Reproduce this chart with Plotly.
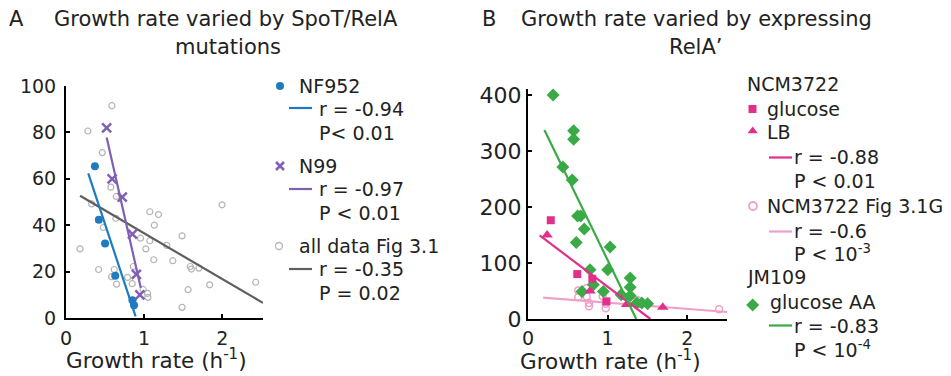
import plotly.graph_objects as go

W, H = 951, 376

# ---------------- Panel A data ----------------
nf952_x = [0.37, 0.42, 0.50, 0.63, 0.85, 0.87]
nf952_y = [65.4, 42.3, 32.1, 18.2, 7.6, 5.5]

n99_x = [0.52, 0.59, 0.72, 0.85, 0.90, 0.945]
n99_y = [81.9, 60.0, 52.1, 36.2, 18.8, 10.0]

all_x = [0.98, 0.587, 0.28, 0.464, 0.574, 0.643, 0.328, 1.072, 1.183, 1.996,
         1.13, 0.638, 0.477, 0.953, 1.072, 1.021, 0.179, 1.123, 0.417, 0.617,
         0.583, 0.647, 0.787, 0.86, 0.847, 0.987, 1.043, 1.047, 1.485, 1.289,
         1.366, 1.59, 1.604, 1.70, 1.838, 1.562, 1.485, 2.426]
all_y = [100.7, 91.5, 80.6, 71.3, 56.4, 52.4, 49.2, 45.8, 44.6, 48.8,
         40.0, 43.0, 39.0, 34.4, 33.3, 29.8, 29.8, 25.1, 20.9, 20.9,
         17.8, 14.6, 17.5, 22.2, 14.8, 12.3, 10.6, 8.9, 35.4, 31.3,
         24.7, 22.2, 21.1, 21.5, 14.3, 12.2, 4.6, 15.4]

# regression lines (end points of the fitted segments)
fit_nf952_x, fit_nf952_y = [0.285, 0.89], [62.3, 0.7]
fit_n99_x, fit_n99_y = [0.52, 0.957], [77.8, 12.9]
fit_all_x, fit_all_y = [0.18, 2.52], [52.7, 6.5]

# ---------------- Panel B data ----------------
glc_x = [0.286, 0.619, 0.808, 0.985]
glc_y = [176.5, 80.2, 71.9, 31.5]

lb_x = [0.24, 0.779, 1.238, 1.693]
lb_y = [149.8, 50.0, 26.0, 20.8]

fig31g_x = [0.632, 0.632, 0.737, 0.737, 0.766, 0.766, 0.939, 0.977, 0.977, 1.377, 1.40, 2.40]
fig31g_y = [51.1, 39.2, 55.3, 40.4, 28.5, 22.6, 40.4, 27.3, 19.0, 33.3, 27.0, 17.6]

jm_x = [0.316, 0.573, 0.573, 0.438, 0.556, 0.623, 0.661, 0.707, 0.606, 1.032,
        0.779, 1.002, 0.821, 0.678, 0.947, 1.284, 1.284, 1.284, 1.17, 1.368,
        1.43, 1.503]
jm_y = [400, 336, 321, 271.6, 248.4, 184, 184, 160.5, 136.7, 128.4,
        88, 88, 61.2, 49.3, 49.3, 73.1, 56.5, 41.6, 43.4, 28.5,
        28.5, 27.3]

fit_ncm_x, fit_ncm_y = [0.147, 1.537], [149.2, 0.0]
fit_31g_x, fit_31g_y = [0.19, 2.5], [38.0, 12.5]
fit_jm_x, fit_jm_y = [0.206, 1.36], [337.6, 0.0]

xticks_a = [0, 1, 2]
yticks_a = [0, 20, 40, 60, 80, 100]
xticks_b = [0, 1, 2]
yticks_b = [0, 100, 200, 300, 400]

# ---------------- styles ----------------
BLUE = "#1f7bbf"
PURPLE = "#8060b4"
DGRAY = "#5f5f5f"
LGRAY = "#b4b4b4"
MAG = "#e0308c"
PINK = "#f0a0c8"
GREEN = "#3aaa46"
TXT = "#222222"
FONT = "DejaVu Sans, Verdana, sans-serif"


def px(x):
    return x / W


def py(y):
    return 1 - y / H


fig = go.Figure()

# Panel A
fig.add_trace(go.Scatter(x=all_x, y=all_y, mode="markers", xaxis="x", yaxis="y",
                         marker=dict(symbol="circle-open", size=6, color=LGRAY, line=dict(width=1.2)),
                         cliponaxis=False))
fig.add_trace(go.Scatter(x=fit_all_x, y=fit_all_y, mode="lines", xaxis="x", yaxis="y",
                         line=dict(color=DGRAY, width=2.2), cliponaxis=False))
fig.add_trace(go.Scatter(x=fit_nf952_x, y=fit_nf952_y, mode="lines", xaxis="x", yaxis="y",
                         line=dict(color=BLUE, width=2.2), cliponaxis=False))
fig.add_trace(go.Scatter(x=fit_n99_x, y=fit_n99_y, mode="lines", xaxis="x", yaxis="y",
                         line=dict(color=PURPLE, width=2.2)))
fig.add_trace(go.Scatter(x=nf952_x, y=nf952_y, mode="markers", xaxis="x", yaxis="y",
                         marker=dict(symbol="circle", size=8, color=BLUE)))
fig.add_trace(go.Scatter(x=n99_x, y=n99_y, mode="markers", xaxis="x", yaxis="y",
                         marker=dict(symbol="x-thin", size=9, color=PURPLE,
                                     line=dict(width=2.5, color=PURPLE))))

# Panel B
fig.add_trace(go.Scatter(x=fig31g_x, y=fig31g_y, mode="markers", xaxis="x2", yaxis="y2",
                         marker=dict(symbol="circle-open", size=7, color=PINK, line=dict(width=1.5))))
fig.add_trace(go.Scatter(x=fit_31g_x, y=fit_31g_y, mode="lines", xaxis="x2", yaxis="y2",
                         line=dict(color=PINK, width=2.2)))
fig.add_trace(go.Scatter(x=jm_x, y=jm_y, mode="markers", xaxis="x2", yaxis="y2",
                         marker=dict(symbol="diamond", size=10, color=GREEN), cliponaxis=False))
fig.add_trace(go.Scatter(x=glc_x, y=glc_y, mode="markers", xaxis="x2", yaxis="y2",
                         marker=dict(symbol="square", size=8, color=MAG)))
fig.add_trace(go.Scatter(x=lb_x, y=lb_y, mode="markers", xaxis="x2", yaxis="y2",
                         marker=dict(symbol="triangle-up", size=10, color=MAG)))
fig.add_trace(go.Scatter(x=fit_ncm_x, y=fit_ncm_y, mode="lines", xaxis="x2", yaxis="y2",
                         line=dict(color=MAG, width=2.2)))
fig.add_trace(go.Scatter(x=fit_jm_x, y=fit_jm_y, mode="lines", xaxis="x2", yaxis="y2",
                         line=dict(color=GREEN, width=2.2)))

# Legend glyphs drawn on an overlay axis in page pixels
legend_marks = [
    (280, 86, "circle", 8, BLUE, None),
    (280, 166, "x-thin", 8, PURPLE, 2.5),
    (279, 246, "circle-open", 7, LGRAY, 1.3),
    (752.5, 109, "square", 8, MAG, None),
    (752.7, 131, "triangle-up", 9, MAG, None),
    (753, 206, "circle-open", 8, PINK, 1.8),
    (752.7, 305, "diamond", 10, GREEN, None),
]
for lx, ly, sym, sz, col, lw in legend_marks:
    mk = dict(symbol=sym, size=sz, color=col)
    if lw:
        mk["line"] = dict(width=lw, color=col)
    fig.add_trace(go.Scatter(x=[lx], y=[ly], mode="markers", xaxis="x3", yaxis="y3",
                             marker=mk, cliponaxis=False))

legend_lines = [
    (289, 312, 108, BLUE),
    (289, 312, 189, PURPLE),
    (289, 312, 269, DGRAY),
    (769, 792, 157.5, MAG),
    (769, 792, 231.5, PINK),
    (769, 792, 325.5, GREEN),
]
shapes = []
for x0, x1, yy, col in legend_lines:
    shapes.append(dict(type="line", xref="paper", yref="paper",
                       x0=px(x0), x1=px(x1), y0=py(yy), y1=py(yy),
                       line=dict(color=col, width=2.2)))

# (x, y, text, anchor, font size)
texts = [
    # titles
    (16, 19, "A", "center", 21),
    (55, 19, "Growth rate varied by SpoT/RelA", "left", 21),
    (228, 47, "mutations", "center", 21),
    (489, 19, "B", "center", 21),
    (522, 19, "Growth rate varied by expressing", "left", 21),
    (695, 47, "RelA\u2019", "center", 21),
    # axis titles
    (156, 359, "Growth rate (h<sup>-1</sup>)", "center", 21.5),
    (610, 360, "Growth rate (h<sup>-1</sup>)", "center", 21.5),
    # legend A
    (300, 86, "NF952", "left", 19),
    (320, 109, "r = -0.94", "left", 19),
    (320, 133, "P< 0.01", "left", 19),
    (300, 166, "N99", "left", 19),
    (320, 189, "r = -0.97", "left", 19),
    (320, 213, "P < 0.01", "left", 19),
    (300, 246, "all data Fig 3.1", "left", 19),
    (320, 269, "r = -0.35", "left", 19),
    (320, 293, "P = 0.02", "left", 19),
    # legend B
    (748, 84, "NCM3722", "left", 19),
    (768, 109, "glucose", "left", 19),
    (768, 132, "LB", "left", 19),
    (795, 157, "r = -0.88", "left", 19),
    (795, 181, "P < 0.01", "left", 19),
    (768, 206, "NCM3722 Fig 3.1G", "left", 19),
    (795, 231, "r = -0.6", "left", 19),
    (795, 253, "P < 10<sup>-3</sup>", "left", 19),
    (748, 277, "JM109", "left", 19),
    (771, 302, "glucose AA", "left", 19),
    (795, 326, "r = -0.83", "left", 19),
    (795, 349, "P < 10<sup>-4</sup>", "left", 19),
]
LEFT_PAD = 3  # annotation box padding before the first glyph
annotations = []
for tx, ty, t, anc, fs in texts:
    xx = tx - LEFT_PAD if anc == "left" else tx
    annotations.append(dict(x=px(xx), y=py(ty), xref="paper", yref="paper", text=t,
                            showarrow=False, xanchor=anc, yanchor="middle",
                            font=dict(family=FONT, size=fs, color=TXT)))


def axis_style(tick_size, standoff=0):
    return dict(showline=True, linewidth=2, linecolor="black", showgrid=False,
                zeroline=False, ticks="inside", ticklen=4, tickwidth=1.5,
                tickcolor="black", automargin=False, ticklabelstandoff=standoff,
                tickfont=dict(family=FONT, size=tick_size, color=TXT))


fig.update_layout(
    template="none",
    width=W, height=H, margin=dict(l=0, r=0, t=0, b=0, pad=0),
    paper_bgcolor="white", plot_bgcolor="rgba(0,0,0,0)", showlegend=False,
    xaxis=dict(domain=[px(66), px(263)], range=[0, 2.52], tickvals=xticks_a,
               anchor="y", **axis_style(19, 2)),
    yaxis=dict(domain=[py(318), py(86)], range=[0, 100], tickvals=yticks_a,
               anchor="x", **axis_style(19, 4)),
    xaxis2=dict(domain=[px(528), px(727)], range=[0, 2.5], tickvals=xticks_b,
                anchor="y2", **axis_style(19, 1)),
    yaxis2=dict(domain=[py(319), py(89.4)], range=[0, 410], tickvals=yticks_b,
                anchor="x2", **axis_style(22, 0)),
    xaxis3=dict(domain=[0, 1], range=[0, W], visible=False, anchor="y3",
                automargin=False),
    yaxis3=dict(domain=[0, 1], range=[H, 0], visible=False, anchor="x3",
                automargin=False),
    shapes=shapes, annotations=annotations,
)

fig.write_html("out.html")
